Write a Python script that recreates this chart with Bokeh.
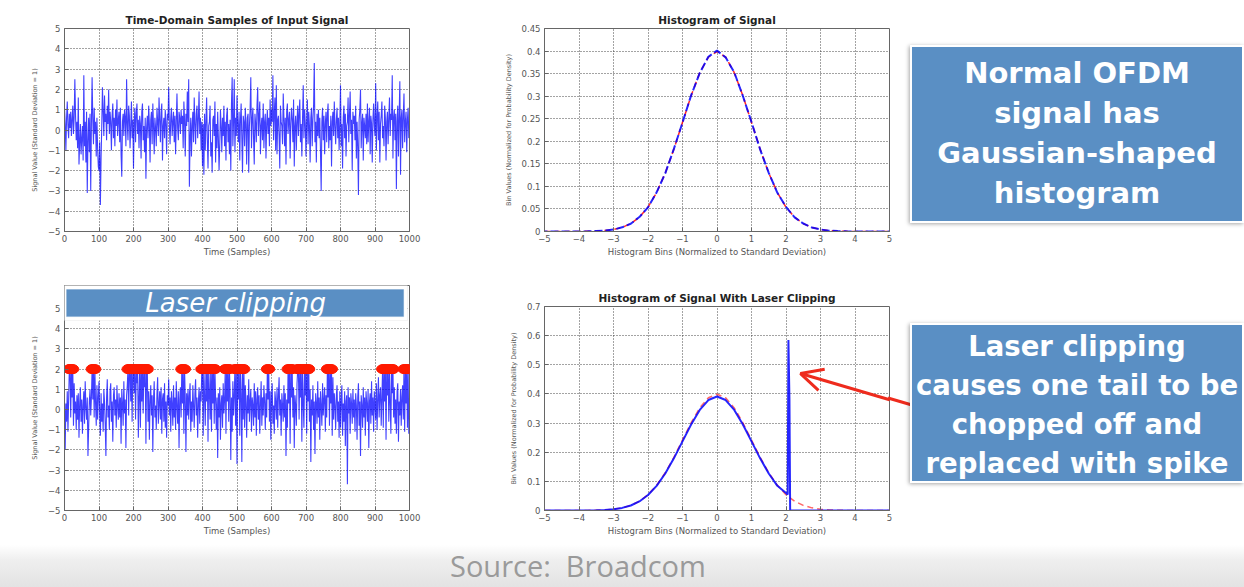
from bokeh.plotting import figure
from bokeh.layouts import row, column
from bokeh.models import (Range1d, FixedTicker, NumeralTickFormatter, BoxAnnotation,
                          Label, Arrow, OpenHead, Div)
from bokeh.embed import file_html
from bokeh.resources import INLINE

# ---------------- data ----------------
# time-domain samples (every 2nd sample)
signal_values = [
    1.1, 0.3, -1.0, 0.6, 1.4, 0.2, -0.4, 0.8, 0.1, 0.9, -0.3, 0.5, 1.2, -0.2, 0.6, 2.5, 0.7, -0.5, 0.4, -0.9,
    1.6, -1.7, -0.6, 0.3, -1.2, -0.4, 0.2, -1.5, 2.7, -0.8, 0.4, -1.6, 0.9, -3.1, -0.5, 0.6, -1.1, 0.8, -3.0, 0.3,
    2.6, 0.5, -0.7, 1.1, -0.2, 0.4, -1.3, 0.6, -0.9, -1.8, -2.0, -0.6, -3.7, -1.4, 0.2, 2.1, 0.9, -0.3, 1.7, 0.4,
    0.8, -0.5, 1.2, 0.3, 2.0, -0.2, 0.9, 0.4, -1.0, 0.7, 1.3, -0.4, 0.6, -0.8, 1.0, 0.2, 1.5, -0.3, 0.5, 0.9,
    -0.6, 1.1, -1.2, -2.3, 0.4, 0.8, -0.3, 1.0, 0.6, -0.8, 2.5, 0.3, -0.5, 1.2, 0.7, -0.9, 0.2, 1.4, -0.4, 0.5,
    -1.9, 0.4, 1.1, -0.6, 0.8, 1.3, -0.2, 0.5, -0.9, 0.7, 0.3, -1.4, 0.9, 1.3, -0.5, 0.2, -1.1, 0.6, -2.4, 0.1,
    0.7, -0.4, 1.2, 0.3, -1.6, 0.5, 0.9, -0.7, 1.3, 0.2, -1.2, 0.6, 0.1, -0.8, 1.1, 0.4, -0.3, 1.6, 0.5, -0.6,
    0.9, 1.3, -1.5, 0.2, 0.6, -0.4, 1.0, 0.3, -1.2, 0.8, 0.5, 2.1, 0.2, -0.7, 0.6, 1.1, -0.3, 0.4, 0.9, -0.6,
    0.7, -1.2, 0.4, 1.8, 0.1, -0.5, 0.9, 0.6, -0.2, 1.0, 0.3, 0.7, -0.9, 1.4, 0.5, -1.3, 0.8, 0.2, 1.9, 0.4,
    2.5, -2.8, -0.4, 0.6, -1.3, 0.2, 0.9, -0.6, 1.6, 0.3, -0.7, 0.8, 1.2, -0.4, 0.5, 1.9, -0.2, 0.6, -1.0, 0.4,
    -1.8, 0.3, -2.2, 0.8, -1.0, 0.4, 1.6, -0.5, -1.9, 0.2, 0.4, 1.2, -1.3, -0.6, -2.1, 0.5, 0.7, -0.3, 1.4, -1.6,
    0.3, -0.9, 0.9, -0.4, -2.0, -0.7, 1.0, 0.2, -1.1, 0.6, -0.3, 1.2, -0.8, 0.4, -1.5, 0.7, 1.1, -0.6, 0.3, -1.2,
    0.5, -2.0, 1.3, 2.6, -0.8, 0.4, 2.5, -1.1, 0.6, -0.3, 1.7, 0.2, -0.6, 0.9, -1.5, 0.5, 1.3, -0.4, -2.1, 0.7,
    0.4, -0.8, 1.1, 0.3, -1.7, 0.6, 0.8, -2.1, 0.2, 1.0, 2.6, -0.9, 0.5, 1.1, -0.4, -1.7, 0.8, 0.3, -0.6, 1.2,
    2.1, -0.3, 0.7, 1.4, -1.2, 0.2, 0.6, -0.5, 1.3, -0.9, 0.4, 0.8, -1.4, 0.3, 1.0, -0.2, 0.6, -0.8, 1.5, 0.2,
    1.0, 0.4, 2.7, -0.5, 0.8, 1.6, -1.0, 2.2, -1.2, 0.5, 0.7, -0.3, -1.9, 1.2, 0.4, 0.2, -0.7, 1.8, 0.6, -0.8,
    0.6, -1.7, 0.9, 1.3, -0.2, 0.5, 0.9, -1.4, 0.3, 1.1, 0.5, -0.6, 1.5, -1.8, 0.2, 0.7, -1.0, 0.4, 1.2, -0.3,
    0.8, 1.5, -0.6, 0.3, -1.3, 0.6, 2.2, -0.4, 1.0, 0.3, -1.3, 0.4, 1.5, -0.7, 0.9, 0.2, -1.6, 0.6, 1.1, -0.8,
    0.5, 1.2, 3.3, -0.6, 0.4, -1.6, 0.8, -0.3, 1.0, -0.4, 0.6, -1.1, -3.0, 0.4, 1.1, -0.5, 0.7, -1.2, 0.3, 0.9,
    -0.6, 0.8, 1.3, -0.9, 0.2, -0.5, 0.7, -1.8, 0.4, 0.9, -0.3, 1.4, 0.2, -0.7, 0.5, 1.1, -0.4, 0.6, -1.0, 0.3,
    2.2, -0.8, 0.3, -1.9, 0.6, 1.2, -0.4, 0.8, -1.3, 0.2, 0.4, 1.6, -0.6, 0.7, 1.9, -0.2, 0.5, -2.0, 0.9, 0.3,
    0.7, -0.5, 1.2, -1.4, 0.4, -0.8, -3.2, 0.5, 1.0, 2.0, -0.9, 0.3, 0.8, -1.5, 0.6, 0.2, -0.4, 0.8, -0.7, 1.3,
    -0.6, 0.4, 1.1, -1.2, 0.7, 0.3, -1.6, 0.5, 1.3, 0.2, -0.3, 2.3, -1.0, 0.6, 1.4, -0.5, 0.9, -1.6, 0.3, 0.7,
    1.4, -0.4, 0.2, -0.8, 1.2, 0.6, -1.5, 0.4, 0.9, -0.7, 0.6, 1.6, -0.3, 0.8, 0.5, 2.7, -1.4, 0.6, 1.0, -0.5,
    0.8, -2.9, 0.4, 1.2, -1.3, 0.7, 2.4, -2.2, 0.6, 1.0, -0.9, 0.7, 1.8, -0.6, 0.4, 0.9, -1.1, 0.5, 1.1, -0.4,
]
clipped_values = [
    0.4, -2.0, 0.3, -0.6, 0.9, -1.1, 0.5, 2.0, 2.0, -0.4, 2.0, 0.6, 2.0, -0.8, 1.3, -0.2, 0.4, -1.0, 0.7, -0.5,
    0.8, -1.4, 0.3, 1.1, -0.6, 0.5, -1.2, 0.2, 0.9, -0.7, 1.4, 0.1, -0.5, 0.6, -2.3, -0.9, 0.4, 1.0, -0.3, 0.6,
    2.0, 0.5, 2.0, -0.4, 2.0, 0.3, -0.8, 1.2, -0.5, 0.6, 1.4, -0.2, -1.3, 0.8, -0.6, 0.3, -1.1, 1.0, 0.4, -0.7,
    -2.3, 0.6, 1.5, -0.4, 0.2, -1.0, 0.9, 1.3, -0.6, 0.4, -1.6, 0.7, 1.1, -0.3, 0.5, -0.9, 1.2, 0.2, -0.5, 0.8,
    -0.4, 0.6, -1.7, 1.0, 0.3, -0.8, 1.4, -0.2, 0.5, -1.9, 0.7, 1.2, 2.0, -0.3, 2.0, 2.0, 0.4, 2.0, -0.6, 2.0,
    2.0, 0.8, 2.0, -0.5, 2.0, 1.3, 2.0, -1.4, 0.6, 2.0, -0.9, 2.0, 0.4, 2.0, -0.2, 2.0, 1.1, 2.0, -1.7, 2.0,
    2.0, -0.6, 0.9, -1.5, 0.4, 1.2, -0.3, 0.7, -2.1, 0.5, 1.4, -0.4, 0.2, -1.0, 0.8, 1.6, -0.7, 0.3, 0.9, -0.5,
    1.1, -1.2, 0.5, 0.8, -0.6, 1.3, -0.9, 0.4, -1.4, 0.7, 0.2, 1.5, -0.3, 0.6, -1.1, 0.9, 0.3, -0.8, 1.2, -0.4,
    0.6, -1.0, 1.4, 0.2, -0.7, 0.9, -1.9, 0.5, 1.1, -0.4, 2.0, 0.3, 2.0, -1.2, 2.0, 0.6, -2.1, 0.8, -0.3, 1.0,
    -0.5, 0.7, 1.3, -1.1, 0.4, -0.6, 1.2, 0.2, -0.9, 0.8, 1.5, -0.3, 0.6, -1.4, 0.3, 1.1, -0.7, 0.9, 0.4, 2.0,
    2.0, -1.3, 2.0, 0.6, -0.8, 2.0, 0.4, 2.0, -1.6, 2.0, 0.9, -0.5, 2.0, -1.1, 2.0, 0.3, 2.0, -0.7, 2.0, 0.5,
    -1.0, 0.6, -2.4, 0.8, -0.4, 1.1, -1.5, 0.3, 0.7, -0.9, 1.3, -0.2, 0.5, 2.0, -1.2, 2.0, 0.4, 2.0, -0.6, 2.0,
    0.9, -2.5, 0.6, -1.1, 1.4, -0.3, 0.7, 2.0, -0.8, 2.0, -2.7, 2.0, 0.5, 2.0, -1.3, 2.0, 0.8, -2.6, 2.0, -0.5,
    2.0, -0.9, 1.2, 0.3, -1.4, 0.7, -0.2, 1.5, -0.6, 0.4, 1.0, -1.1, 0.6, 0.2, -0.8, 1.3, -0.4, 0.9, -1.3, 0.5,
    1.1, -0.5, 0.7, -1.2, 0.3, 1.4, -0.8, 0.6, -0.3, 1.2, 0.4, -1.0, 0.8, -0.4, 2.0, 0.5, 2.0, -0.6, 0.9, -1.5,
    0.6, 1.3, -0.7, 0.2, -1.2, 0.9, 0.4, -0.5, 1.1, -0.9, 0.7, 1.6, -0.3, 0.5, -1.3, 0.8, 0.2, -0.6, 1.2, -0.4,
    0.8, -2.3, 0.5, -0.9, 2.0, 0.3, 2.0, -1.7, 2.0, 0.6, 2.0, -0.4, 1.1, -1.9, 0.7, 0.2, -0.8, 1.3, 2.0, 2.0,
    -0.5, 2.0, 0.6, 2.0, -1.6, 2.0, 0.3, -0.9, 2.0, 0.7, 2.0, -1.2, 2.0, 0.4, 2.0, -0.6, 1.0, -2.6, 0.5, -0.3,
    1.2, -1.0, 0.4, -2.2, 0.8, 0.3, -0.7, 1.4, -0.4, 0.6, -1.5, 0.9, 0.2, -0.8, 1.3, -0.3, 0.5, 1.1, -1.1, 0.7,
    -0.4, 2.0, 0.6, 2.0, -0.8, 2.0, 0.3, 2.0, -1.3, 1.6, -0.5, 0.8, 0.2, -1.0, 0.7, 1.2, -0.6, 0.4, -1.4, 0.9,
    -0.9, 0.5, 1.2, -1.3, 0.3, -0.6, 0.9, -1.8, 0.4, 0.7, -3.7, 1.1, -0.2, 0.6, -1.2, 0.8, 0.3, -0.7, 1.0, -0.4,
    0.5, -1.1, 0.8, 0.2, -1.5, 0.6, 1.3, -0.8, 0.4, -2.3, 0.7, 0.2, -0.9, 1.1, -0.4, 0.6, -1.3, 0.9, 0.3, -0.6,
    1.0, -1.9, 0.4, 0.8, -0.7, 1.4, -0.3, 0.6, -1.1, 0.9, 0.2, -0.5, 1.3, -1.0, 0.5, 1.6, -0.4, 0.7, 1.1, -0.8,
    0.6, 2.0, -0.9, 2.0, 0.4, 2.0, -1.5, 2.0, 0.7, 2.0, -0.6, 2.0, 0.3, -1.2, 2.0, 0.8, 2.0, -0.4, 1.1, -0.7,
    0.5, -1.2, 0.9, 1.3, -1.6, 0.4, -0.3, 1.0, -0.8, 0.6, 1.2, -0.5, 2.0, -1.1, 2.0, 0.3, 2.0, -0.9, 2.0, -1.2,
]
SAMPLE_STEP = 2
CLIP_LEVEL = 2.0
time_ticks = [0, 100, 200, 300, 400, 500, 600, 700, 800, 900, 1000]
signal_ticks = [-5, -4, -3, -2, -1, 0, 1, 2, 3, 4, 5]

hist_x = [-5.0, -4.75, -4.5, -4.25, -4.0, -3.75, -3.5, -3.25, -3.0, -2.75, -2.5, -2.25, -2.0, -1.75,
          -1.5, -1.25, -1.0, -0.75, -0.5, -0.25, 0.0, 0.25, 0.5, 0.75, 1.0, 1.25, 1.5, 1.75, 2.0, 2.25,
          2.5, 2.75, 3.0, 3.25, 3.5, 3.75, 4.0, 4.25, 4.5, 4.75, 5.0]
gauss_ref = [0, 0, 0, 0, 0.0001, 0.0004, 0.0009, 0.0020, 0.0044, 0.0091, 0.0175, 0.0317, 0.0540, 0.0863,
             0.1295, 0.1826, 0.2420, 0.3011, 0.3521, 0.3867, 0.3989, 0.3867, 0.3521, 0.3011, 0.2420, 0.1826,
             0.1295, 0.0863, 0.0540, 0.0317, 0.0175, 0.0091, 0.0044, 0.0020, 0.0009, 0.0004, 0.0001, 0, 0, 0, 0]
hist_signal = [0, 0, 0, 0, 0.0001, 0.0003, 0.0010, 0.0021, 0.0042, 0.0093, 0.0172, 0.0320, 0.0536, 0.0868,
               0.1290, 0.1832, 0.2414, 0.3018, 0.3515, 0.3873, 0.4010, 0.3860, 0.3528, 0.3004, 0.2426, 0.1820,
               0.1300, 0.0858, 0.0544, 0.0314, 0.0177, 0.0089, 0.0045, 0.0019, 0.0009, 0.0003, 0.0001, 0, 0, 0, 0]
clip_hist_x = [-5.0, -4.75, -4.5, -4.25, -4.0, -3.75, -3.5, -3.25, -3.0, -2.75, -2.5, -2.25, -2.0, -1.75,
               -1.5, -1.25, -1.0, -0.75, -0.5, -0.25, 0.0, 0.25, 0.5, 0.75, 1.0, 1.25, 1.5, 1.75, 2.0,
               2.05, 2.07, 2.10, 2.12, 2.25, 2.5, 2.75, 3.0, 3.25, 3.5, 3.75, 4.0, 4.25, 4.5, 4.75, 5.0]
clip_hist = [0, 0, 0, 0, 0.0001, 0.0004, 0.0009, 0.0019, 0.0043, 0.0089, 0.0171, 0.0311, 0.0530, 0.0846,
             0.1270, 0.1790, 0.2372, 0.2950, 0.3450, 0.3790, 0.3910, 0.3790, 0.3450, 0.2950, 0.2372, 0.1790,
             0.1270, 0.0846, 0.0600,
             0.055, 0.585, 0.38, 0.0, 0, 0, 0, 0, 0, 0, 0, 0, 0, 0, 0, 0]
bin_ticks = [-5, -4, -3, -2, -1, 0, 1, 2, 3, 4, 5]
density_ticks_1 = [0, 0.05, 0.1, 0.15, 0.2, 0.25, 0.3, 0.35, 0.4, 0.45]
density_ticks_2 = [0, 0.1, 0.2, 0.3, 0.4, 0.5, 0.6, 0.7]

box1_lines = ["Normal OFDM", "signal has", "Gaussian-shaped", "histogram"]
box2_lines = ["Laser clipping", "causes one tail to be", "chopped off and", "replaced with spike"]
banner_text = "Laser clipping"
source_text = "Source:&nbsp; Broadcom"

# ---------------- styling helpers ----------------
FONT = "DejaVu Sans"
BLUE = "#0000ff"
RED = "#ff0000"
ARROW_RED = "#ee2b1d"


def make_fig(w, h, left, right, top, bottom, xr, yr, xticks, yticks, xlabel, ylabel,
             title=None, yfmt=None):
    p = figure(width=w, height=h, x_range=Range1d(*xr), y_range=Range1d(*yr),
               output_backend="svg", toolbar_location=None, title=title,
               min_border_left=left, min_border_right=right,
               min_border_top=top, min_border_bottom=bottom)
    p.background_fill_color = "white"
    p.border_fill_color = "white"
    p.outline_line_color = "#666666"
    p.outline_line_width = 1
    p.xaxis.ticker = FixedTicker(ticks=xticks)
    p.yaxis.ticker = FixedTicker(ticks=yticks)
    if yfmt is not None:
        p.yaxis.formatter = yfmt
    for ax in (p.xaxis[0], p.yaxis[0]):
        ax.major_tick_in = 4
        ax.major_tick_out = 0
        ax.minor_tick_line_color = None
        ax.axis_line_color = "#666666"
        ax.major_tick_line_color = "#666666"
        ax.major_label_text_font = FONT
        ax.major_label_text_font_size = "8.5px"
        ax.major_label_text_color = "#555555"
        ax.axis_label_text_font = FONT
        ax.axis_label_text_font_style = "normal"
        ax.axis_label_text_color = "#555555"
    p.xaxis.axis_label = xlabel
    p.yaxis.axis_label = ylabel
    p.xaxis.axis_label_text_font_size = "8.5px"
    p.yaxis.axis_label_text_font_size = "6.5px"
    p.xaxis.major_label_standoff = 3
    p.xaxis.axis_label_standoff = 2
    p.yaxis.major_label_standoff = 4
    p.yaxis.axis_label_standoff = 6
    p.grid.grid_line_color = "#333333"
    p.grid.grid_line_dash = "1 2"
    p.grid.grid_line_alpha = 0.9
    if title is not None:
        p.title.text_font = FONT
        p.title.text_font_size = "10.5px"
        p.title.text_font_style = "bold"
        p.title.text_color = "#222222"
        p.title.align = "center"
        p.title.standoff = 6
    return p


# ---------------- top-left: time domain ----------------
t1 = [SAMPLE_STEP * i for i in range(len(signal_values))]
p1 = make_fig(470, 270, 64, 61, 28, 39, (0, 1000), (-5, 5), time_ticks, signal_ticks,
              "Time (Samples)", "Signal Value (Standard Deviation = 1)",
              title="Time-Domain Samples of Input Signal")
p1.line(t1, signal_values, line_color=BLUE, line_width=1.1, line_alpha=0.75)

# ---------------- top-right: histogram ----------------
p2 = make_fig(440, 270, 74, 21, 28, 39, (-5, 5), (0, 0.45), bin_ticks, density_ticks_1,
              "Histogram Bins (Normalized to Standard Deviation)",
              "Bin Values (Normalized for Probability Density)",
              title="Histogram of Signal", yfmt=NumeralTickFormatter(format="0.[00]"))
p2.line(hist_x, gauss_ref, line_color=RED, line_width=1.5, line_dash="6 4", line_alpha=0.85)
p2.line(hist_x, hist_signal, line_color=BLUE, line_width=2, line_dash="8 3",
        line_dash_offset=5, line_alpha=0.85)

# ---------------- bottom-left: clipped time domain ----------------
# frame reaches up under the banner (y above 5 is hidden by it)
t2 = [SAMPLE_STEP * i for i in range(len(clipped_values))]
p3 = make_fig(470, 275, 64, 61, 15, 35, (0, 1000), (-5, 6.14), time_ticks, signal_ticks,
              "Time (Samples)", "Signal Value (Standard Deviation = 1)")
p3.line(t2, clipped_values, line_color=BLUE, line_width=1.1, line_alpha=0.75)
clip_t = [t for t, v in zip(t2, clipped_values) if v >= CLIP_LEVEL]
clip_v = [v for v in clipped_values if v >= CLIP_LEVEL]
p3.ellipse(clip_t, clip_v, width=12, height=9, width_units="screen", height_units="screen",
           fill_color="#ff1a00", line_color="#ff1a00")
p3.add_layout(BoxAnnotation(left=-9, right=994, bottom=4.41, top=6.2,
                            fill_color="white", fill_alpha=1.0,
                            line_color="#d8d8d8", line_width=1))
p3.add_layout(BoxAnnotation(left=6, right=983, bottom=4.60, top=5.94,
                            fill_color="#5a8fc4", fill_alpha=1.0,
                            line_color="#5a8fc4", line_width=1))
p3.add_layout(Label(x=496, y=5.27, text=banner_text, text_font=FONT,
                    text_font_style="italic", text_font_size="26px", text_color="white",
                    text_align="center", text_baseline="middle"))

# ---------------- bottom-right: clipped histogram ----------------
p4 = make_fig(440, 275, 74, 16, 36, 35, (-5, 5), (0, 0.7), bin_ticks, density_ticks_2,
              "Histogram Bins (Normalized to Standard Deviation)",
              "Bin Values (Normalized for Probability Density)",
              title="Histogram of Signal With Laser Clipping",
              yfmt=NumeralTickFormatter(format="0.[0]"))
p4.line(hist_x, gauss_ref, line_color=RED, line_width=1.5, line_dash="6 4", line_alpha=0.6)
p4.line(clip_hist_x, clip_hist, line_color=BLUE, line_width=2, line_alpha=0.85)
p4.add_layout(Arrow(end=OpenHead(size=22, line_color=ARROW_RED, line_width=3),
                    x_start=5.46, y_start=0.364, x_end=2.42, y_end=0.47,
                    line_color=ARROW_RED, line_width=3))

# ---------------- text boxes ----------------
def box_html(lines, top, height, size, lh, pad, total_h, extra=""):
    return (
        f'<div style="position:relative;width:334px;height:{total_h}px;overflow:visible;">'
        + extra +
        f'<div style="position:absolute;left:0;top:{top}px;width:334px;height:{height}px;'
        'box-sizing:border-box;background:#5a8fc4;border:2px solid #ffffff;'
        'box-shadow:-1px 1px 4px rgba(0,0,0,0.35);color:#ffffff;'
        f"font-family:'DejaVu Sans';font-weight:bold;font-size:{size}px;line-height:{lh}px;"
        f'text-align:center;white-space:nowrap;padding-top:{pad}px;">'
        + "<br>".join(lines) + "</div></div>"
    )


# tail of the arrow between the histogram frame and the text box
arrow_tail = (
    '<svg style="position:absolute;left:-24px;top:122px;overflow:visible;" width="26" height="16">'
    f'<line x1="2" y1="6" x2="25" y2="12.7" stroke="{ARROW_RED}" stroke-width="3"/></svg>'
)

d1 = Div(text=box_html(box1_lines, 45, 178, 29, 40, 6, 270), width=334, height=270, margin=0)
d2 = Div(text=box_html(box2_lines, 53, 160, 27.5, 39, 2, 275, arrow_tail),
         width=334, height=275, margin=0, styles={"overflow": "visible"})
d3 = Div(text=(
    '<div style="width:1244px;height:42px;background:linear-gradient(#ffffff 0%, #efefef 35%, #e3e3e3 100%);'
    "font-family:'Open Sans';font-size:29px;color:#9a9a9a;line-height:42px;"
    f'padding-left:450px;box-sizing:border-box;white-space:nowrap;">{source_text}</div>'),
    width=1244, height=42, margin=0)

# columns keep each plot's own borders (no frame alignment across the bottom row)
layout = column(row(column(p1, p3), column(p2, p4), column(d1, d2)), d3)

open("out.html", "w").write(file_html(layout, INLINE))
